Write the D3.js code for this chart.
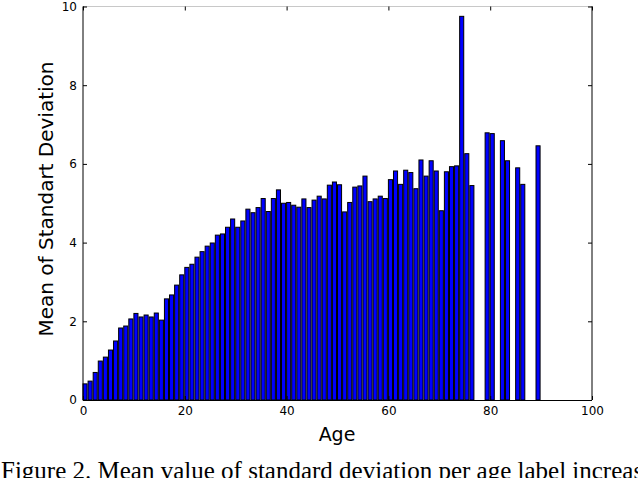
<!DOCTYPE html>
<html><head><meta charset="utf-8">
<script src="https://cdn.jsdelivr.net/npm/d3@7"></script>
<style>body{margin:0;background:#fff;overflow:hidden;}svg{display:block;}</style>
</head><body>
<script>
const ages = d3.range(0, 90);
const meanStd = [
 0.41,0.48,0.70,0.99,1.09,1.27,1.50,1.83,1.88,2.06,
 2.20,2.11,2.16,2.11,2.21,2.03,2.57,2.67,2.92,3.18,
 3.37,3.45,3.63,3.77,3.91,3.99,4.19,4.22,4.39,4.60,
 4.39,4.55,4.85,4.76,4.89,5.12,4.79,5.12,5.34,5.00,
 5.02,4.95,4.90,5.11,4.89,5.08,5.18,5.11,5.46,5.54,
 5.47,4.78,5.02,5.41,5.44,5.69,5.04,5.11,5.18,5.12,
 5.60,5.82,5.48,5.84,5.78,5.37,6.10,5.69,6.08,5.82,
 4.81,5.80,5.93,5.95,9.75,6.26,5.45,null,null,6.79,
 6.77,null,6.59,6.08,null,5.90,5.48,null,null,6.46
];
const xTicks = [0,20,40,60,80,100];
const yTicks = [0,2,4,6,8,10];
const xLabel = "Age";
const yLabel = "Mean of Standart Deviation";
const caption = "Figure 2. Mean value of standard deviation per age label increase";

const W = 638, H = 478;
const svg = d3.select("body").append("svg").attr("width", W).attr("height", H);
const x = d3.scaleLinear().domain([0,100]).range([83,592]);
const y = d3.scaleLinear().domain([0,10]).range([400,6.5]);
const barW = 0.8;

const data = ages.map((a,i)=>({age:a, v:meanStd[i]})).filter(d=>d.v!=null);
svg.append("g").selectAll("rect").data(data).join("rect")
  .attr("x", d=>x(d.age))
  .attr("width", d=>x(d.age+barW)-x(d.age))
  .attr("y", d=>y(d.v))
  .attr("height", d=>y(0)-y(d.v))
  .attr("fill","#0000ff").attr("stroke","#000").attr("stroke-width",1);

// spines
const g = svg.append("g");
g.append("line").attr("x1",x(0)).attr("x2",x(100)).attr("y1",y(10)).attr("y2",y(10)).attr("stroke","#c8c8c8").attr("stroke-width",1);
g.append("line").attr("x1",x(0)).attr("x2",x(100)).attr("y1",y(0)+0.5).attr("y2",y(0)+0.5).attr("stroke","#000").attr("stroke-width",1);
g.append("line").attr("x1",x(0)).attr("x2",x(0)).attr("y1",y(10)).attr("y2",y(0)).attr("stroke","#000").attr("stroke-width",1);
g.append("line").attr("x1",x(100)).attr("x2",x(100)).attr("y1",y(10)).attr("y2",y(0)).attr("stroke","#000").attr("stroke-width",1);

// axes with inward ticks
const font = "'DejaVu Sans', sans-serif";
const xb = svg.append("g").attr("transform",`translate(0,${y(0)})`)
  .call(d3.axisBottom(x).tickValues(xTicks).tickSize(-4).tickPadding(6).tickFormat(d3.format("d")));
const xt = svg.append("g").attr("transform",`translate(0,${y(10)})`)
  .call(d3.axisTop(x).tickValues(xTicks).tickSize(-4).tickFormat(""));
const yl = svg.append("g").attr("transform",`translate(${x(0)},0)`)
  .call(d3.axisLeft(y).tickValues(yTicks).tickSize(-4).tickPadding(6).tickFormat(d3.format("d")));
const yr = svg.append("g").attr("transform",`translate(${x(100)},0)`)
  .call(d3.axisRight(y).tickValues(yTicks).tickSize(-4).tickFormat(""));
[xb,xt,yl,yr].forEach(a=>{
  a.select(".domain").remove();
  a.selectAll(".tick line").attr("stroke","#000");
  a.selectAll("text").attr("font-family",font).attr("font-size",12).attr("fill","#000");
});

svg.append("text").attr("x",337).attr("y",441).attr("text-anchor","middle")
  .attr("font-family",font).attr("font-size",19).text(xLabel);
svg.append("text").attr("transform","translate(53,199) rotate(-90)").attr("text-anchor","middle")
  .attr("font-family",font).attr("font-size",20).text(yLabel);
svg.append("text").attr("x",1).attr("y",479)
  .attr("font-family","'Liberation Serif', 'Times New Roman', serif").attr("font-size",25).text(caption);
</script>
</body></html>
